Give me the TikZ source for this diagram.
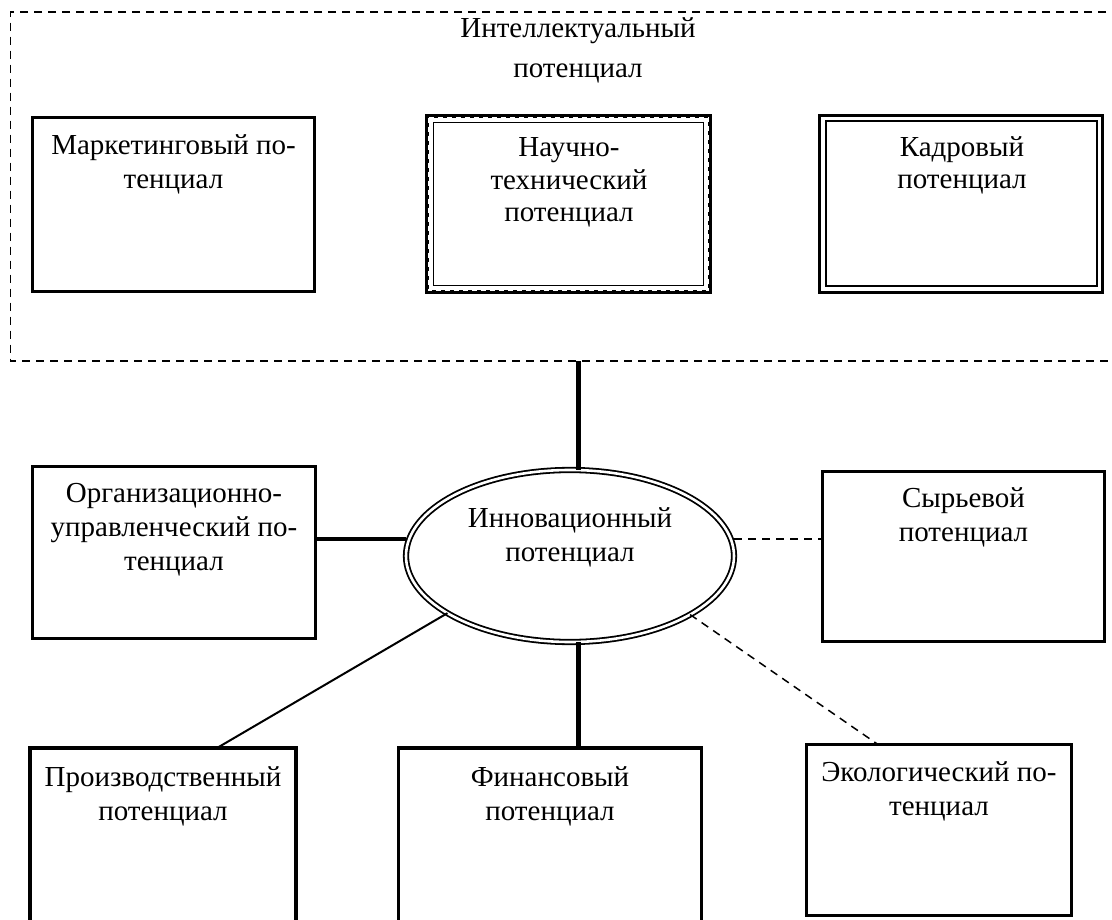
\documentclass[tikz,border=0pt]{standalone}
\usepackage{fontspec}
\setmainfont{Liberation Serif}
\usetikzlibrary{shapes.geometric}

\tikzset{
  box/.style={draw, rectangle, line width=3.3pt, inner sep=0pt, outer sep=0pt},
  % a multi-line label sits on the baseline of its last line
  lbl/.style={font=\fontsize{29}{34}\selectfont, align=center, anchor=base, inner sep=0pt},
  heavy/.style={line width=5pt},
  framedash/.style={line width=1.4pt, dash pattern=on 8pt off 6pt},
  linkdash/.style={line width=1.5pt, dash pattern=on 8pt off 6pt},
}

\begin{document}
\begin{tikzpicture}[x=1pt, y=-1pt]
\useasboundingbox (0,0) rectangle (1112,920);
\clip (0,0) rectangle (1112,920);

% open dashed frame of the intellectual group
\coordinate (fr-tr) at (1120,12);
\coordinate (fr-tl) at (10.7,12);
\coordinate (fr-bl) at (10.7,361);
\coordinate (fr-br) at (1120,361);
\draw[framedash] (fr-tr) -- (fr-tl) -- (fr-bl) -- (fr-br);
\node[lbl, font=\fontsize{29}{40}\selectfont] (intel) at (578,78) {Интеллектуальный\\потенциал};

% upper row
\node[box, minimum width=282pt, minimum height=174pt] (mark) at (173.5,204.5) {};
\node[lbl] (mark-t) at (173.5,189) {Маркетинговый по-\\тенциал};

\node[box, line width=4.5pt, minimum width=283pt, minimum height=176pt] (nauch) at (568.5,204) {};
\draw[white, line width=1.1pt, dash pattern=on 5pt off 4pt]
  ([shift={(1.6pt,-1.6pt)}]nauch.north west) rectangle ([shift={(-1.6pt,1.6pt)}]nauch.south east);
\draw[line width=1.8pt]
  ([shift={(6.5pt,-6.5pt)}]nauch.north west) rectangle ([shift={(-6.5pt,6.5pt)}]nauch.south east);
\node[lbl, font=\fontsize{29}{32.5}\selectfont] (nauch-t) at (569,222) {Научно-\\технический\\потенциал};

\node[box, line width=3pt, minimum width=283pt, minimum height=177pt] (kadr) at (961,204) {};
\draw[line width=2pt]
  ([shift={(6pt,-6pt)}]kadr.north west) rectangle ([shift={(-6pt,6pt)}]kadr.south east);
\node[lbl, font=\fontsize{29}{32}\selectfont] (kadr-t) at (962,189) {Кадровый\\потенциал};

% central ellipse
\node[ellipse, draw, double, line width=1.8pt, double distance=2.6pt,
      minimum width=328pt, minimum height=172pt, inner sep=0pt, outer sep=0pt] (inn) at (570,556) {};
\node[lbl] (inn-t) at (570,561) {Инновационный\\потенциал};

% middle row
\node[box, minimum width=283pt, minimum height=172pt] (org) at (174,552.5) {};
\node[lbl] (org-t) at (174,570) {Организационно-\\управленческий по-\\тенциал};

\node[box, minimum width=282pt, minimum height=170pt] (syr) at (963.5,556.5) {};
\node[lbl] (syr-t) at (963.5,541) {Сырьевой\\потенциал};

% lower row
\node[box, minimum width=266pt, minimum height=192pt] (proiz) at (163,844) {};
\node[lbl] (proiz-t) at (163,820) {Производственный\\потенциал};

\node[box, minimum width=303pt, minimum height=192pt] (fin) at (550,844) {};
\node[lbl] (fin-t) at (550,820) {Финансовый\\потенциал};

\node[box, minimum width=265pt, minimum height=171pt] (eco) at (939,830) {};
\node[lbl] (eco-t) at (939,815) {Экологический по-\\тенциал};

% connectors
\coordinate (up) at (578,361);
\draw[heavy] (up) -- (up |- inn.north);

\coordinate (org-r) at ([yshift=13.5pt]org.east);
\draw[line width=4.5pt] (org-r) -- (inn.west |- org-r);

\coordinate (syr-l) at ([yshift=17.5pt]syr.west);
\draw[linkdash] (inn.east |- syr-l) -- (syr-l);

\coordinate (fin-top) at ([xshift=28pt]fin.north);
\draw[heavy] (inn.south -| fin-top) -- (fin-top);

\coordinate (proiz-top) at ([xshift=54pt]proiz.north);
\draw[line width=2pt] (inn.205) -- (proiz-top);

\coordinate (eco-top) at ([xshift=-61pt]eco.north);
\draw[linkdash] (inn.334) -- (eco-top);
\end{tikzpicture}
\end{document}
